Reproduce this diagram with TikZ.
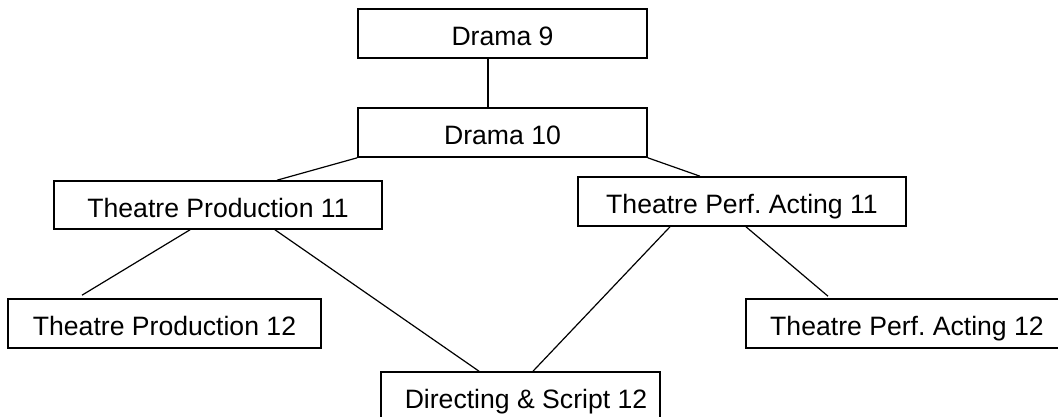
\documentclass[tikz,border=0pt]{standalone}
\usepackage{fontspec}
\setmainfont{Liberation Sans}
\usetikzlibrary{calc}
\tikzset{
  box/.style={draw=black, line width=1.6pt, fill=white, inner sep=0pt,
    minimum height=49pt, text height=24pt, text depth=0pt,
    font=\fontsize{26.6pt}{30pt}\selectfont\frenchspacing},
  link/.style={draw=black, line width=1.2pt}
}
\begin{document}
\begin{tikzpicture}[x=1pt, y=-1pt]
\useasboundingbox (0,0) rectangle (1058,417);
\node[box, minimum width=289pt] (d9) at (502.5,33.5) {Drama 9};
\node[box, minimum width=289pt] (d10) at (502.5,132.5) {Drama 10};
\node[box, minimum width=328pt, minimum height=48pt] (tp11) at (218,205) {Theatre Production 11};
\node[box, minimum width=328pt] (tpa11) at (742,201.5) {Theatre Perf. Acting 11};
\node[box, minimum width=313pt] (tp12) at (164.5,323.5) {Theatre Production 12};
\node[box, minimum width=322pt] (tpa12) at (907,323.5) {Theatre Perf. Acting 12};
\node[box, minimum width=279pt] (ds) at (520.5,396.5) {\hspace*{11pt}Directing \& Script 12};
\draw[link] ($(d9.south)+(-14.5,0)$) -- ($(d10.north)+(-14.5,0)$);
\draw[link] (d10.south west) -- ($(tp11.north)+(59,0)$);
\draw[link] (d10.south east) -- ($(tpa11.north)+(-42,0)$);
\draw[link] ($(tp11.south)+(-28,0)$) -- ($(tp12.north)+(-82.5,-3)$);
\draw[link] ($(tp11.south)+(57,0)$) -- ($(ds.north)+(-41.5,0)$);
\draw[link] ($(tpa11.south)+(-72,0)$) -- ($(ds.north)+(12.5,0)$);
\draw[link] ($(tpa11.south)+(4,0)$) -- ($(tpa12.north)+(-79,-2)$);
\end{tikzpicture}
\end{document}
